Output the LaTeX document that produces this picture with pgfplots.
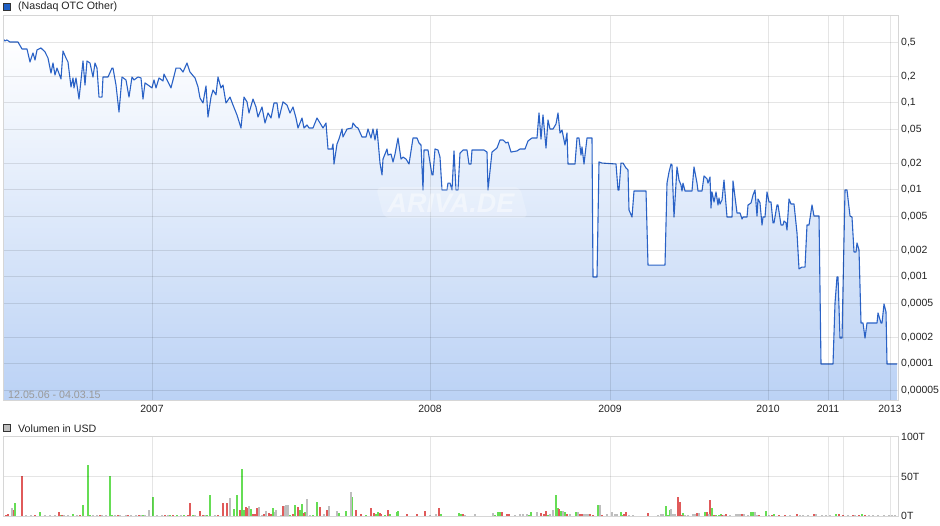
\documentclass[border=0pt]{standalone}
\usepackage{fontspec}
\setmainfont{Liberation Sans}
\usepackage{pgfplots}
\usepackage{pgfplotstable}
\pgfplotsset{compat=1.18}
\definecolor{gridc}{HTML}{D6D6D6}
\definecolor{linec}{HTML}{2A62C6}
\definecolor{fillb}{HTML}{BBD2F5}
\definecolor{vgreen}{HTML}{66DD55}
\definecolor{vred}{HTML}{E05A5A}
\definecolor{vgray}{HTML}{BEBEBE}
\definecolor{txt}{HTML}{222222}
\definecolor{legblue}{HTML}{1F5FC4}

\pgfplotstableread{
x y
3 0.544
5 0.516
7 0.530
10 0.502
18 0.502
22 0.418
27 0.418
30 0.296
33 0.376
35 0.312
37 0.407
41 0.429
45 0.386
48 0.329
51 0.221
53 0.288
55 0.210
57 0.252
61 0.189
63 0.396
66 0.329
68 0.296
71 0.153
73 0.194
74 0.149
76 0.194
79 0.111
83 0.304
85 0.161
87 0.304
90 0.288
93 0.199
95 0.288
97 0.252
99 0.117
102 0.117
103 0.199
108 0.199
112 0.252
113 0.252
116 0.161
119 0.0788
122 0.199
126 0.184
129 0.117
132 0.199
134 0.184
138 0.199
141 0.194
143 0.111
145 0.170
148 0.161
152 0.149
154 0.184
156 0.149
159 0.194
163 0.179
164 0.215
167 0.184
171 0.149
176 0.252
180 0.252
183 0.227
187 0.288
190 0.227
195 0.194
198 0.153
200 0.114
203 0.100
206 0.157
208 0.0690
211 0.117
213 0.141
216 0.124
218 0.199
221 0.149
223 0.161
226 0.100
230 0.117
233 0.0948
237 0.0728
241 0.0516
244 0.117
247 0.103
249 0.0768
253 0.111
256 0.0900
258 0.0690
262 0.0900
265 0.0589
268 0.0768
271 0.0672
274 0.100
277 0.100
279 0.0672
283 0.103
287 0.0948
290 0.0768
293 0.0900
296 0.0672
298 0.0516
302 0.0672
304 0.0516
307 0.0559
309 0.0516
313 0.0516
315 0.0589
317 0.0672
320 0.0589
323 0.0516
326 0.0589
328 0.0296
332 0.0296
333 0.0338
334 0.0199
337 0.0338
339 0.0386
342 0.0502
343 0.0407
347 0.0502
352 0.0516
353 0.0589
356 0.0530
358 0.0516
362 0.0407
366 0.0407
368 0.0502
371 0.0396
373 0.0502
375 0.0376
377 0.0502
380 0.0204
382 0.0149
383 0.0227
387 0.0296
388 0.0252
391 0.0259
393 0.0210
395 0.0259
398 0.0396
401 0.0227
403 0.0239
406 0.0227
409 0.0199
413 0.0396
417 0.0396
419 0.0347
421 0.0329
423 0.0100
424 0.0288
428 0.0288
432 0.0149
433 0.0149
435 0.0296
438 0.0288
440 0.0239
442 0.0100
447 0.0100
448 0.0120
450 0.0120
452 0.0100
454 0.0281
456 0.0100
458 0.0100
460 0.0266
463 0.0288
467 0.0288
469 0.0199
471 0.0199
472 0.0288
484 0.0288
487 0.0273
488 0.0100
492 0.0273
497 0.0304
500 0.0376
503 0.0376
506 0.0347
508 0.0356
511 0.0273
517 0.0281
520 0.0296
525 0.0296
528 0.0366
532 0.0396
537 0.0396
539 0.0768
541 0.0386
543 0.0728
546 0.0304
548 0.0638
550 0.0502
553 0.0502
556 0.0574
558 0.0768
560 0.0452
562 0.0489
565 0.0329
567 0.0452
568 0.0199
575 0.0199
577 0.0396
579 0.0396
581 0.0252
582 0.0312
584 0.0199
587 0.0396
592 0.0396
593 0.00100
597 0.00100
599 0.0210
602 0.0204
616 0.0199
618 0.0100
619 0.0100
621 0.0204
623 0.0204
626 0.0179
628 0.0170
629 0.00589
632 0.00489
634 0.00974
646 0.00974
648 0.00137
665 0.00137
667 0.0120
669 0.0161
671 0.0199
672 0.0194
674 0.00489
677 0.0184
679 0.0130
681 0.0114
682 0.00974
683 0.0120
685 0.00974
692 0.00974
694 0.0184
697 0.0120
698 0.00974
702 0.00974
704 0.0145
707 0.0134
708 0.0120
710 0.0141
711 0.00621
712 0.00948
714 0.00728
716 0.00948
718 0.00672
719 0.00809
720 0.00690
722 0.00768
724 0.0130
727 0.00489
732 0.00489
733 0.0127
737 0.00544
740 0.00544
742 0.00464
743 0.00489
747 0.00489
748 0.00672
751 0.00709
753 0.00876
755 0.0100
757 0.00502
758 0.00788
760 0.00709
762 0.00396
763 0.00489
765 0.00489
767 0.00948
769 0.00728
771 0.00728
773 0.00418
774 0.00418
777 0.00672
778 0.00672
781 0.00396
783 0.00396
784 0.00440
786 0.00418
787 0.00347
789 0.00788
791 0.00690
794 0.00690
797 0.00320
799 0.00124
802 0.00130
805 0.00130
807 0.00396
809 0.00396
812 0.00672
814 0.00502
819 0.00502
821 0.000100
833 0.000100
835 0.000502
837 0.00100
838 0.00100
840 0.000199
842 0.000199
845 0.0100
847 0.0100
850 0.00502
852 0.00489
854 0.00194
856 0.00194
857 0.00246
859 0.00204
861 0.000296
863 0.000296
865 0.000199
867 0.000296
877 0.000296
878 0.000386
881 0.000296
882 0.000296
884 0.000489
886 0.000396
887 0.000100
897 0.000100
}\price

\pgfplotsset{
  chartbase/.style={
    scale only axis, width=895bp,
    xmin=3, xmax=898,
    axis line style={draw=gridc, line width=1bp},
    grid=major,
    major grid style={draw=black, draw opacity=0.1, line width=1bp},
    major tick length=0pt,
    tick style={draw=none},
    ticklabel style={font=\fontsize{10.5}{12}\selectfont, text=txt},
    yticklabel pos=right,
    yticklabel style={anchor=west, inner sep=0pt, xshift=3bp},
    xtick={152,430,610,768,828,843,890},
    axis on top,
    clip=true,
  }
}

\begin{document}
\begin{tikzpicture}
\path[use as bounding box] (0,0) rectangle (940bp,526bp);

% price panel
\begin{axis}[chartbase,
  at={(3bp,126bp)}, anchor=south west, height=384bp,
  ymode=log, ymin=3.855e-5, ymax=1, log origin y=infty,
  xticklabels={2007,2008,2009,2010,2011,,2013},
  xticklabel style={anchor=north, inner sep=0pt, yshift=-5bp},
  ytick={0.00005,0.0001,0.0002,0.0005,0.001,0.002,0.005,0.01,0.02,0.05,0.1,0.2,0.5},
  yticklabels={{0,00005},{0,0001},{0,0002},{0,0005},{0,001},{0,002},{0,005},{0,01},{0,02},{0,05},{0,1},{0,2},{0,5}},
]
\addplot[draw=none, top color=white, bottom color=fillb] table {\price} \closedcycle;
\addplot[linec, line width=1.1bp, line join=round] table {\price};
\end{axis}

% watermark
\fill[white, opacity=0.22, rounded corners=6bp] (384bp,308bp) -- (528bp,308bp) -- (520bp,339bp) -- (376bp,339bp) -- cycle;
\node[font=\fontsize{27}{30}\selectfont\bfseries\itshape, text=white, opacity=0.45, inner sep=0pt] at (451bp,323bp) {ARIVA.DE};

% volume panel
\begin{axis}[chartbase,
  at={(3bp,10bp)}, anchor=south west, height=79bp,
  ymin=0, ymax=100,
  xticklabels={},
  ytick={0,50,100},
  yticklabels={0T,50T,100T},
]
\addplot[ycomb, no marks, draw=vgreen, line width=1.1bp] coordinates {
(15,17) (40,5) (60,1) (73,2) (83,14) (88,65) (90,1) (110,50) (112,1) (143,1) (153,24) (170,1) (177,1.5) (184,1.5) (193,1) (207,1) (210,27) (234,9) (237,27) (242,59) (244,7.6) (251,9) (273,10) (290,1.5) (295,14) (300,7.6) (302,15) (305,5) (313,1.5) (317,18) (339,4.2) (346,6.3) (352,24) (366,1.5) (376,3) (378,5) (385,1.5) (390,3) (397,5) (398,6.3) (441,3) (459,4.2) (461,3)
(495,1.5) (498,5) (500,5) (529,1.5) (531,5) (548,1.5) (556,26) (558,10) (561,6.3) (565,5) (576,5) (598,14) (621,5) (623,1.5) (666,13) (668,1.5) (670,7.6) (683,4.2) (705,5) (712,10) (716,1.5) (719,1.5) (721,2) (751,5) (753,5) (766,6.3) (774,2) (836,3) (862,2)
};
\addplot[ycomb, no marks, draw=vred, line width=1.1bp] coordinates {
(6,1) (8,2) (13,7.6) (22,50) (35,1) (59,5) (62,1) (80,1) (100,1) (118,1) (128,1) (139,1) (165,1) (173,1) (188,1) (190,17) (200,6.3) (203,1) (218,1) (223,17) (227,17) (240,7.6) (246,11.4) (247,10.5) (253,2) (255,2) (257,9.7) (264,2) (269,4.2) (271,2) (283,12.7) (293,2) (298,11.4) (304,3.4) (320,11.4) (327,7.6) (356,7.6) (361,2) (371,10) (374,4.2) (380,4.2) (381,3) (388,7.6) (407,3) (417,2) (425,6.3) (439,10) (463,3)
(502,5) (507,2) (509,2) (541,3.8) (544,3) (546,6.3) (559,8.9) (567,2) (580,2) (582,2) (590,2) (593,1) (602,1) (624,3) (626,5) (648,3.8) (678,23.6) (680,17.7) (682,1) (697,3.8) (707,5) (710,20) (714,1) (722,1) (726,3) (742,3) (759,1) (772,1) (779,1) (785,1) (797,2) (814,3) (839,2) (843,1) (853,1) (859,1) (865,1)
};
\addplot[ycomb, no marks, draw=vgray, line width=1.1bp] coordinates {
(12,9.7) (26,1) (31,1) (45,1) (50,1.5) (55,1) (64,1) (68,1) (77,1) (93,1) (97,1) (102,1) (106,1) (115,1) (120,1) (126,1) (131,1) (136,1) (141,1) (145,1) (149,7.6) (157,1) (162,1.5) (168,1) (181,1) (195,1) (205,1) (215,1) (230,23) (249,13) (259,11.4) (262,1.5) (266,6.3) (275,4.6) (276,7.6) (281,1) (285,13) (286,13.9) (288,13.9) (307,21.5) (310,1) (324,2) (329,12.7) (337,6.3) (351,30.4) (430,1) (436,3) (465,1)
(475,2) (493,3.4) (515,1) (520,2) (523,3) (527,3) (537,5) (550,2) (553,7.6) (563,6.3) (570,3) (578,5) (584,3) (586,3) (588,3) (600,14.3) (607,3) (612,5) (615,3) (617,3) (629,1) (633,1) (658,1) (661,2) (663,2) (671,8.9) (673,2) (675,2) (685,1) (688,1) (693,2) (695,2) (699,4.2) (709,3) (724,1) (730,1) (736,2) (738,2) (740,2) (744,2) (748,1) (755,5) (757,1) (769,1) (790,1) (800,1) (803,1) (808,1) (816,3) (822,1) (826,1) (830,1) (848,1) (855,1) (869,1) (873,1) (878,1) (884,1) (889,1) (892,1) (895,1.5)
};
\end{axis}

% headers
\filldraw[fill=legblue, draw=black!80, line width=0.6bp] (3.7bp,515.8bp) rectangle (10.7bp,522.8bp);
\node[anchor=west, inner sep=0pt, font=\fontsize{10.7}{12}\selectfont, text=txt] at (18bp,519bp) {(Nasdaq OTC Other)};
\filldraw[fill=vgray, draw=black!80, line width=0.6bp] (3.7bp,94.3bp) rectangle (10.7bp,101.3bp);
\node[anchor=west, inner sep=0pt, font=\fontsize{10.7}{12}\selectfont, text=txt] at (18bp,97.5bp) {Volumen in USD};
\node[anchor=west, inner sep=0pt, font=\fontsize{10.7}{12}\selectfont, text=black!40] at (8bp,131bp) {12.05.06 - 04.03.15};
\end{tikzpicture}
\end{document}
